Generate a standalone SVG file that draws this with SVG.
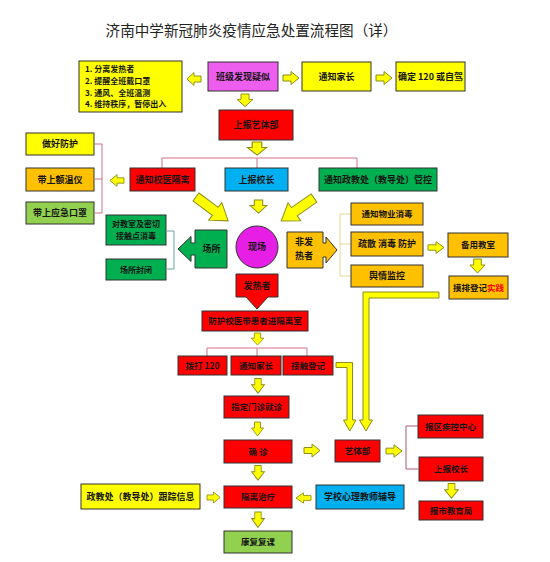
<svg xmlns="http://www.w3.org/2000/svg" xmlns:xlink="http://www.w3.org/1999/xlink" width="550" height="562" viewBox="0 0 550 562">
<style>
.bx{stroke:#333;stroke-width:1}
.r{fill:#ff0000}.y{fill:#ffff00}.o{fill:#ffc000}.g{fill:#00b050}.lg{fill:#92d050}.bl{fill:#00b0f0}.m{fill:#ee5eee}
.t{font-family:"Noto Sans CJK SC","Noto Sans",sans-serif;font-size:9px;font-weight:bold;fill:#141414;text-anchor:middle}
.s8{font-size:8.5px}
.s7{font-size:8px}
.tl{text-anchor:start;font-size:8px}
.ar{fill:#ffff00;stroke:#8c8c1a;stroke-width:1}
.ln{fill:none;stroke:#d0708a;stroke-width:1}
.title{font-family:"Noto Sans CJK SC",sans-serif;font-size:14.6px;fill:#222;text-anchor:middle}
</style>
<defs>
<path id="ad" d="M-4,0 H4 V6 H8 L0,14 L-8,6 H-4 Z"/>
<path id="arr" d="M0,-3 H8 V-6.5 L16,0 L8,6.5 V3 H0 Z"/>
<path id="adg" d="M0,-5 H24 V-11 L40,0 L24,11 V5 H0 Z"/>
</defs>
<rect width="550" height="562" fill="#ffffff"/>
<text class="title" x="251.5" y="35.5">济南中学新冠肺炎疫情应急处置流程图（详）</text>

<g id="connectors">
<path class="ln" d="M162,168 V158 H357 V168 M257,158 V168"/>
<path class="ln" d="M95,144 H102 V213 H95 M95,179 H102"/>
<path class="ln" d="M167,231 H174 V269 H167" style="stroke:#6fa3a3"/>
<path class="ln" d="M351,214 H340 V276 H351 M340,244 H351" style="stroke:#e2d99a"/>
<path class="ln" d="M207,356 V348 H307 V356 M257,348 V356"/>
<path class="ln" d="M418,426 H406 V469 H418" style="stroke:#a85878"/>
<use xlink:href="#arr" class="ar" transform="translate(201,79) scale(-0.875,1)"/>
<use xlink:href="#arr" class="ar" transform="translate(283,78)"/>
<use xlink:href="#arr" class="ar" transform="translate(376,78)"/>
<use xlink:href="#ad" class="ar" transform="translate(245,94) scale(1,0.9)"/>
<use xlink:href="#ad" class="ar" transform="translate(257,142) scale(1.2,0.93)"/>
<use xlink:href="#ad" class="ar" transform="translate(258.5,200) scale(1.05,0.93)"/>
<use xlink:href="#adg" class="ar" transform="translate(196,197) rotate(36.6)"/>
<use xlink:href="#adg" class="ar" transform="translate(314,198) rotate(145)"/>
<use xlink:href="#arr" class="ar" transform="translate(124,180.5) scale(-0.875,0.9)"/>
<use xlink:href="#arr" class="ar" transform="translate(428,247.5) scale(1,0.9)"/>
<use xlink:href="#ad" class="ar" transform="translate(477.5,259) scale(0.95,1)"/>
<use xlink:href="#ad" class="ar" transform="translate(257.5,333) scale(0.8,0.86)"/>
<use xlink:href="#ad" class="ar" transform="translate(258,378.5) scale(0.8,1.05)"/>
<use xlink:href="#ad" class="ar" transform="translate(257.5,422) scale(0.75,1)"/>
<use xlink:href="#ad" class="ar" transform="translate(258,465.5) scale(0.8,1.05)"/>
<use xlink:href="#ad" class="ar" transform="translate(258,512) scale(0.8,1.1)"/>
<use xlink:href="#ad" class="ar" transform="translate(451.5,483.5) scale(0.85,1.05)"/>
<use xlink:href="#arr" class="ar" transform="translate(304,450.5) scale(1,1)"/>
<use xlink:href="#arr" class="ar" transform="translate(386,451) scale(1,0.95)"/>
<use xlink:href="#arr" class="ar" transform="translate(207,497.5) scale(0.82,0.85)"/>
<use xlink:href="#arr" class="ar" transform="translate(311,498) scale(-0.94,0.8)"/>
<path class="ar" d="M439,292 H363 V420 H359.5 L366,431 L372.5,420 H369 V298 H439 Z"/>
<path class="ar" d="M336,362.5 H352.5 V420 H356 L349.8,431 L343.5,420 H347 V367.5 H336 Z"/>
</g>

<g id="n-list"><rect class="bx y" x="79" y="61" width="103" height="51"/>
<text class="t tl" x="85" y="72.3">1.  分离发热者</text>
<text class="t tl" x="85" y="83.9">2.  提醒全班戴口罩</text>
<text class="t tl" x="85" y="95.5">3.  通风、全班温测</text>
<text class="t tl" x="85" y="107.1">4.  维持秩序，暂停出入</text></g>
<g id="n-found"><rect class="bx m" x="208" y="62" width="70" height="29"/><text class="t" x="243" y="79.7">班级发现疑似</text></g>
<g id="n-parent1"><rect class="bx y" x="302" y="62" width="69" height="29"/><text class="t" x="336.5" y="79.7">通知家长</text></g>
<g id="n-120drive"><rect class="bx y" x="396" y="62" width="69" height="29"/><text class="t" x="430.5" y="79.7">确定 120 或自驾</text></g>
<g id="n-report-yt"><rect class="bx r" x="219" y="110" width="74" height="30"/><text class="t" x="256" y="128.2">上报艺体部</text></g>
<g id="n-doctor"><rect class="bx r" x="130" y="168" width="65" height="23"/><text class="t" x="162.5" y="182.7">通知校医隔离</text></g>
<g id="n-principal1"><rect class="bx bl" x="225" y="168" width="63" height="23"/><text class="t" x="256.5" y="182.7">上报校长</text></g>
<g id="n-zj"><rect class="bx g" x="319" y="168" width="118" height="23"/><text class="t" x="378" y="182.7">通知政教处（教导处）管控</text></g>
<g id="n-protect"><rect class="bx y" x="26" y="133" width="68" height="22"/><text class="t" x="60" y="147.2">做好防护</text></g>
<g id="n-thermo"><rect class="bx o" x="26" y="168" width="68" height="23"/><text class="t" x="60" y="182.7">带上额温仪</text></g>
<g id="n-mask"><rect class="bx lg" x="26" y="202" width="68" height="22"/><text class="t" x="60" y="216.2">带上应急口罩</text></g>
<g id="n-site"><circle class="bx" cx="257" cy="247" r="21" fill="#e61ee6"/><text class="t" x="257" y="250.2">现场</text></g>
<g id="n-place"><path class="bx g" d="M195,230 H227 V268 H195 V255 H191 V261.5 L178,249 L191,236.5 V243 H195 Z"/><text class="t" x="211.5" y="252.2">场所</text></g>
<g id="n-disinfect"><rect class="bx g" x="106" y="215" width="60" height="30"/><text class="t s7" x="136" y="227.3">对教室及密切</text><text class="t s7" x="136" y="238.9">接触点消毒</text></g>
<g id="n-close"><rect class="bx g" x="106" y="259" width="60" height="21"/><text class="t s7" x="136" y="272.5">场所封闭</text></g>
<g id="n-nonfever"><path class="bx o" d="M287,232 H323 V243 H326 V237 L337,250 L326,263 V257 H323 V268 H287 Z"/><text class="t" x="304" y="245.3">非发</text><text class="t" x="304" y="258.6">热者</text></g>
<g id="n-property"><rect class="bx o" x="351" y="203" width="72" height="22"/><text class="t s8" x="387" y="217.1">通知物业消毒</text></g>
<g id="n-evacuate"><rect class="bx o" x="351" y="232" width="72" height="24"/><text class="t" x="387" y="247.3">疏散  消毒  防护</text></g>
<g id="n-opinion"><rect class="bx o" x="351" y="265" width="72" height="22"/><text class="t" x="387" y="279.2">舆情监控</text></g>
<g id="n-spare"><rect class="bx o" x="448" y="233" width="60" height="24"/><text class="t s8" x="478" y="248">备用教室</text></g>
<g id="n-survey"><rect class="bx o" x="449" y="276" width="59" height="23"/><text class="t s8" x="478.5" y="290.7">摸排登记<tspan fill="#ff0000">实践</tspan></text></g>
<g id="n-fever"><path class="bx r" d="M236,274 H278 V297 H268 L257,309 L246,297 H236 Z"/><text class="t" x="257" y="288.7">发热者</text></g>
<g id="n-isolate-room"><rect class="bx r" x="202" y="311" width="106" height="20"/><text class="t s8" x="255" y="324">防护校医带患者进隔离室</text></g>
<g id="n-call120"><rect class="bx r" x="178" y="356" width="49" height="19"/><text class="t s8" x="202.5" y="368.6">拨打 120</text></g>
<g id="n-parent2"><rect class="bx r" x="231" y="356" width="50" height="19"/><text class="t s8" x="256" y="368.6">通知家长</text></g>
<g id="n-contact"><rect class="bx r" x="283" y="356" width="50" height="19"/><text class="t s8" x="308" y="368.6">接触登记</text></g>
<g id="n-clinic"><rect class="bx r" x="224" y="396" width="65" height="22"/><text class="t s8" x="256.5" y="410">指定门诊就诊</text></g>
<g id="n-confirm"><rect class="bx r" x="224" y="440" width="68" height="23"/><text class="t s8" x="258" y="454.5">确  诊</text></g>
<g id="n-treat"><rect class="bx r" x="224" y="486" width="68" height="22"/><text class="t s8" x="258" y="500">隔离治疗</text></g>
<g id="n-recover"><rect class="bx lg" x="224" y="531" width="68" height="22"/><text class="t s8" x="258" y="545">康复复课</text></g>
<g id="n-yt2"><rect class="bx r" x="335" y="440" width="45" height="22"/><text class="t s8" x="357.5" y="454">艺体部</text></g>
<g id="n-cdc"><rect class="bx r" x="418" y="415" width="65" height="23"/><text class="t s8" x="450.5" y="429.5">报区疾控中心</text></g>
<g id="n-principal2"><rect class="bx r" x="419" y="457" width="64" height="24"/><text class="t s8" x="451" y="472">上报校长</text></g>
<g id="n-edu"><rect class="bx r" x="419" y="501" width="64" height="19"/><text class="t s8" x="451" y="513.6">报市教育局</text></g>
<g id="n-psych"><rect class="bx bl" x="316" y="485" width="88" height="24"/><text class="t" x="360" y="500.2">学校心理教师辅导</text></g>
<g id="n-track"><rect class="bx y" x="81" y="484" width="119" height="25"/><text class="t" x="140.5" y="499.7">政教处（教导处）跟踪信息</text></g>
</svg>
